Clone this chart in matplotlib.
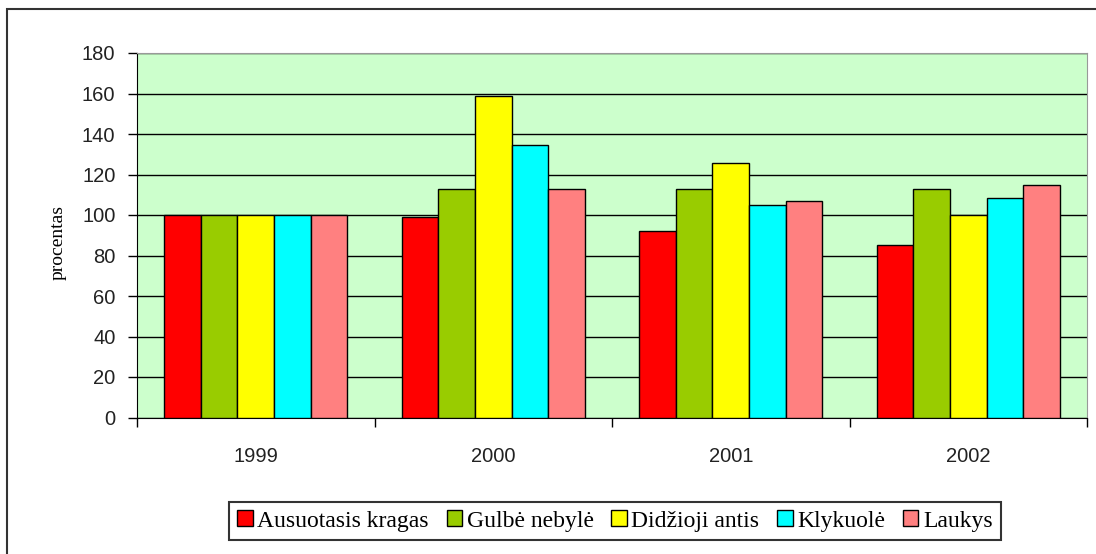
import numpy as np
import matplotlib.pyplot as plt
from matplotlib.patches import Rectangle

years = ["1999", "2000", "2001", "2002"]
species = ["Ausuotasis kragas", "Gulbė nebylė", "Didžioji antis", "Klykuolė", "Laukys"]
colors = ["#ff0000", "#99cc00", "#ffff00", "#00ffff", "#ff8080"]

ausuotasis = [100, 99, 92, 85]
gulbe = [100, 113, 113, 113]
didzioji = [100, 159, 125.5, 100]
klykuole = [100, 134.5, 105, 108.5]
laukys = [100, 113, 107, 115]
series = [ausuotasis, gulbe, didzioji, klykuole, laukys]

fig = plt.figure(figsize=(10.96, 5.54), dpi=100)
ax = fig.add_axes([137 / 1096, 1 - 417.5 / 554, (1087 - 137) / 1096, (417.5 - 53) / 554])
ax.set_facecolor("#ccffcc")

# outer chart border
fig.add_artist(Rectangle((7 / 1096, -0.1), 1.2, 0.1 + (554 - 9) / 554,
                         transform=fig.transFigure, fill=False,
                         edgecolor="#333333", linewidth=1.5))

n = len(series)
bw = 1 / (n + 1.5)
x = np.arange(len(years))
for i, (vals, c, name) in enumerate(zip(series, colors, species)):
    ax.bar(x + (i - (n - 1) / 2) * bw, vals, width=bw, color=c,
           edgecolor="black", linewidth=1, label=name, zorder=3)

ax.set_xlim(-0.5, len(years) - 0.5)
ax.set_ylim(0, 180)
ax.set_yticks(range(0, 181, 20))
ax.yaxis.grid(True, color="black", linewidth=1, zorder=1)
ax.set_axisbelow(True)

ax.set_xticks(x)
ax.set_xticklabels(years)
ax.set_xticks(np.arange(-0.5, len(years), 1), minor=True)
ax.tick_params(axis="x", which="major", length=0, pad=21, labelsize=14.5,
               labelcolor="#222222")
ax.tick_params(axis="x", which="minor", length=6.5, width=1, direction="out")
ax.tick_params(axis="y", length=6.5, width=1, direction="out", labelsize=14.5,
               labelcolor="#222222", pad=9)
for lbl in ax.get_xticklabels() + ax.get_yticklabels():
    lbl.set_family("Liberation Sans")

for s in ["top", "right"]:
    ax.spines[s].set_color("#999999")
for s in ["left", "bottom"]:
    ax.spines[s].set_color("black")

ax.set_ylabel("procentas", family="Liberation Serif", fontsize=14)
ax.yaxis.set_label_coords(-0.074, 0.479)

leg = fig.legend(loc="center", bbox_to_anchor=(615 / 1096, 1 - 521 / 554), ncol=5,
                 prop={"family": "Liberation Serif", "size": 17},
                 frameon=True, fancybox=False, edgecolor="black",
                 handlelength=0.65, handleheight=0.65, handletextpad=0.2,
                 columnspacing=0.75, borderpad=0.35, borderaxespad=0)
leg.get_frame().set_linewidth(1.5)

fig.savefig("out.png", dpi=100)
